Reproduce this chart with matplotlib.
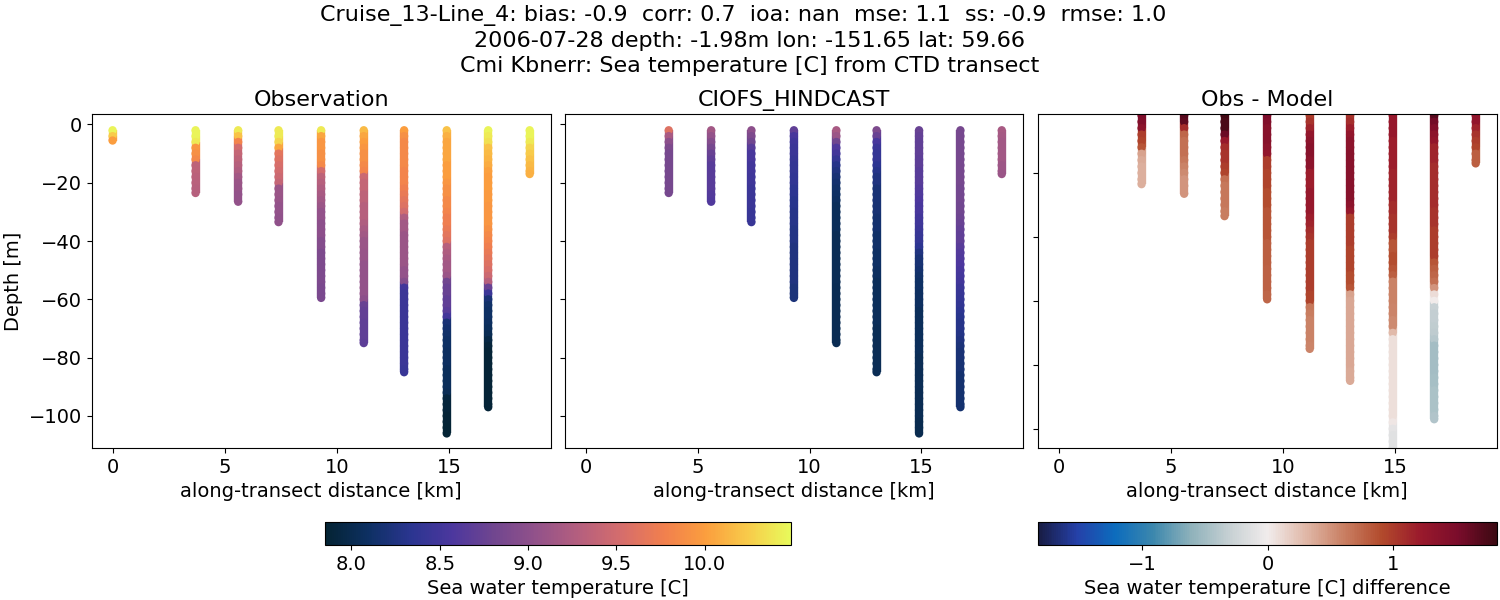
"""
CTD transect comparison: observed vs hindcast sea temperature along one cruise line.
"""
import numpy as np
import matplotlib
matplotlib.use("Agg")
import matplotlib.pyplot as plt
from matplotlib.colors import LinearSegmentedColormap

# cast positions along the transect [km] and deepest sample of each cast [m]
cast_km = [0.0, 3.7, 5.6, 7.4, 9.3, 11.2, 13.0, 14.9, 16.75, 18.6]
cast_bottom = [-5.5, -23.5, -26.5, -33.5, -59.5, -75.0, -85.0, -106.0, -97.0, -17.0]

# sample depths shared by the casts, every cast stops early at its own bottom
depth_levels = [
    -1.98, -4, -6, -8, -10, -12, -14, -16, -18, -20,
    -22, -24, -26, -28, -30, -32, -34, -36, -38, -40,
    -42, -44, -46, -48, -50, -52, -54, -56, -58, -60,
    -62, -64, -66, -68, -70, -72, -74, -76, -78, -80,
    -82, -84, -86, -88, -90, -92, -94, -96, -98, -100,
    -102, -104, -106,
]

# observed temperature [C]
obs_00 = [10.45, 10.25, 10.0]
obs_37 = [10.45, 10.45, 10.4, 9.95, 9.9, 9.85, 9.35, 9.35, 9.33, 9.32,
          9.3, 9.3]
obs_56 = [10.4, 10.2, 9.8, 9.5, 9.4, 9.35, 9.3, 9.25, 9.15, 9.1,
          9.08, 9.05, 9.05]
obs_74 = [10.4, 10.4, 10.3, 10.05, 9.65, 9.6, 9.55, 9.5, 9.45, 9.4,
          9.1, 9.1, 9.08, 9.05, 9.05, 9.03, 9.03]
obs_93 = [10.4, 10.05, 9.95, 9.95, 9.9, 9.9, 9.85, 9.5, 9.35, 9.3,
          9.25, 9.2, 9.15, 9.1, 9.05, 9.05, 9.0, 9.0, 9.0, 8.95,
          8.95, 8.9, 8.9, 8.9, 8.9, 8.9, 8.9, 8.88, 8.88, 8.88]
obs_112 = [10.15, 10.05, 10.0, 9.95, 9.9, 9.9, 9.85, 9.8, 9.45, 9.4,
           9.4, 9.35, 9.35, 9.3, 9.3, 9.3, 9.25, 9.2, 9.15, 9.1,
           9.1, 9.08, 9.08, 9.05, 9.05, 9.05, 9.05, 9.05, 9.05, 9.0,
           8.75, 8.72, 8.72, 8.7, 8.7, 8.7, 8.7, 8.68]
obs_130 = [10.0, 9.9, 9.85, 9.85, 9.85, 9.85, 9.85, 9.8, 9.8, 9.8,
           9.75, 9.7, 9.65, 9.6, 9.5, 9.25, 9.15, 9.15, 9.1, 9.1,
           9.1, 9.1, 9.1, 9.1, 9.05, 9.05, 8.95, 8.5, 8.45, 8.45,
           8.45, 8.45, 8.45, 8.45, 8.45, 8.45, 8.45, 8.45, 8.45, 8.45,
           8.45, 8.43, 8.43]
obs_149 = [10.2, 10.1, 10.05, 10.05, 10.05, 10.05, 10.0, 10.0, 10.0, 9.95,
           9.9, 9.9, 9.85, 9.85, 9.8, 9.75, 9.75, 9.7, 9.65, 9.6,
           9.3, 9.25, 9.2, 9.15, 9.15, 9.1, 8.8, 8.75, 8.75, 8.7,
           8.7, 8.65, 8.5, 8.2, 8.15, 8.12, 8.1, 8.1, 8.08, 8.08,
           8.08, 8.05, 8.05, 8.05, 8.05, 8.03, 7.92, 7.9, 7.9, 7.88,
           7.88, 7.87, 7.87]
obs_168 = [10.45, 10.4, 10.35, 10.2, 10.15, 10.12, 10.08, 10.02, 10.0, 10.0,
           10.0, 9.98, 9.98, 9.95, 9.95, 9.95, 9.95, 9.9, 9.85, 9.8,
           9.75, 9.7, 9.65, 9.6, 9.55, 9.45, 9.3, 8.75, 8.45, 8.2,
           8.12, 8.1, 8.1, 8.08, 8.05, 8.02, 7.95, 7.9, 7.88, 7.88,
           7.88, 7.88, 7.88, 7.88, 7.88, 7.88, 7.88, 7.88, 7.88]
obs_186 = [10.45, 10.45, 10.4, 10.3, 10.25, 10.2, 10.15, 10.12, 10.1]

# hindcast temperature [C], the model has nothing at the first cast
mod_37 = [9.6, 9.2, 9.0, 8.9, 8.85, 8.85, 8.85, 8.85, 8.85, 8.85,
          8.85, 8.85]
mod_56 = [9.15, 9.05, 8.95, 8.85, 8.75, 8.7, 8.65, 8.65, 8.65, 8.65,
          8.65, 8.62, 8.6]
mod_74 = [9.0, 8.9, 8.8, 8.65, 8.55, 8.55, 8.5, 8.5, 8.48, 8.48,
          8.45, 8.45, 8.45, 8.45, 8.43, 8.43, 8.43]
mod_93 = [8.7, 8.55, 8.48, 8.45, 8.45, 8.42, 8.4, 8.4, 8.38, 8.38,
          8.35, 8.35, 8.32, 8.32, 8.3, 8.3, 8.3, 8.28, 8.28, 8.28,
          8.25, 8.25, 8.25, 8.25, 8.25, 8.25, 8.25, 8.22, 8.22, 8.22]
mod_112 = [9.2, 9.1, 8.8, 8.6, 8.5, 8.4, 8.3, 8.25, 8.2, 8.15,
           8.12, 8.1, 8.08, 8.05, 8.05, 8.05, 8.05, 8.05, 8.03, 8.03,
           8.03, 8.03, 8.03, 8.03, 8.03, 8.03, 8.03, 8.02, 8.02, 8.02,
           8.02, 8.02, 8.02, 8.02, 8.02, 8.02, 8.02, 8.02]
mod_130 = [8.9, 8.75, 8.55, 8.45, 8.4, 8.4, 8.35, 8.3, 8.25, 8.25,
           8.2, 8.2, 8.2, 8.18, 8.18, 8.15, 8.15, 8.15, 8.12, 8.12,
           8.12, 8.1, 8.1, 8.1, 8.08, 8.08, 8.05, 8.05, 8.05, 8.05,
           8.05, 8.05, 8.05, 8.05, 8.03, 8.03, 8.03, 8.03, 8.03, 8.03,
           8.03, 8.03, 8.03]
mod_149 = [8.75, 8.72, 8.7, 8.7, 8.7, 8.68, 8.68, 8.65, 8.65, 8.65,
           8.62, 8.6, 8.58, 8.55, 8.55, 8.5, 8.48, 8.45, 8.42, 8.4,
           8.35, 8.25, 8.2, 8.18, 8.15, 8.12, 8.1, 8.1, 8.08, 8.08,
           8.08, 8.05, 8.05, 8.05, 8.05, 8.05, 8.05, 8.05, 8.05, 8.03,
           8.03, 8.03, 8.03, 8.03, 8.03, 8.02, 8.02, 8.02, 8.02, 8.02,
           8.0, 8.0, 8.0]
mod_168 = [8.85, 8.85, 8.85, 8.85, 8.85, 8.85, 8.85, 8.85, 8.85, 8.85,
           8.82, 8.82, 8.82, 8.8, 8.8, 8.78, 8.75, 8.72, 8.7, 8.7,
           8.65, 8.62, 8.6, 8.58, 8.55, 8.52, 8.5, 8.45, 8.42, 8.4,
           8.38, 8.35, 8.32, 8.3, 8.3, 8.28, 8.25, 8.22, 8.2, 8.2,
           8.18, 8.18, 8.15, 8.15, 8.15, 8.15, 8.15, 8.15, 8.15]
mod_186 = [9.2, 9.18, 9.15, 9.15, 9.15, 9.15, 9.12, 9.12, 9.1]

# obs minus model [C]
dif_37 = [1.5, 1.45, 1.35, 1.0, 0.95, 0.85, 0.42, 0.38, 0.35, 0.35,
          0.35, 0.35]
dif_56 = [1.7, 1.65, 1.1, 0.75, 0.7, 0.7, 0.7, 0.65, 0.6, 0.55,
          0.5, 0.5, 0.5]
dif_74 = [1.8, 1.75, 1.75, 1.6, 1.25, 1.1, 1.05, 1.05, 1.0, 0.95,
          0.7, 0.65, 0.65, 0.65, 0.65, 0.62, 0.62]
dif_93 = [1.5, 1.45, 1.4, 1.4, 1.4, 1.35, 1.3, 1.0, 1.0, 0.95,
          0.95, 0.95, 0.9, 0.9, 0.9, 0.85, 0.85, 0.85, 0.85, 0.85,
          0.8, 0.8, 0.8, 0.8, 0.78, 0.78, 0.78, 0.78, 0.75, 0.75]
dif_112 = [1.0, 1.05, 1.15, 1.3, 1.35, 1.4, 1.4, 1.35, 1.35, 1.2,
           1.2, 1.2, 1.25, 1.25, 1.25, 1.25, 1.2, 1.15, 1.1, 1.05,
           1.0, 1.0, 1.0, 1.0, 1.0, 1.0, 1.0, 1.0, 0.95, 0.95,
           0.65, 0.62, 0.6, 0.6, 0.6, 0.6, 0.58, 0.58]
dif_130 = [1.05, 1.1, 1.2, 1.3, 1.35, 1.35, 1.4, 1.4, 1.4, 1.4,
           1.4, 1.4, 1.4, 1.4, 1.35, 1.25, 1.0, 1.0, 1.0, 1.0,
           1.0, 0.95, 0.95, 0.95, 0.95, 0.9, 0.9, 0.85, 0.42, 0.4,
           0.4, 0.4, 0.4, 0.4, 0.4, 0.4, 0.4, 0.4, 0.4, 0.4,
           0.38, 0.38, 0.38]
dif_149 = [1.25, 1.25, 1.25, 1.25, 1.2, 1.2, 1.2, 1.2, 1.2, 1.15,
           1.15, 1.15, 1.15, 1.15, 1.1, 1.1, 1.05, 1.05, 1.05, 1.0,
           0.85, 0.85, 0.9, 0.9, 0.85, 0.8, 0.6, 0.6, 0.6, 0.6,
           0.58, 0.58, 0.55, 0.55, 0.3, 0.08, 0.08, 0.08, 0.08, 0.08,
           0.08, 0.08, 0.08, 0.08, 0.08, 0.08, 0.08, 0.08, 0.03, -0.1,
           -0.12, -0.12, -0.12]
dif_168 = [1.7, 1.55, 1.45, 1.35, 1.3, 1.15, 1.15, 1.15, 1.1, 1.1,
           1.1, 1.1, 1.1, 1.1, 1.1, 1.05, 1.05, 1.05, 1.0, 1.0,
           1.0, 1.0, 1.0, 0.85, 0.8, 0.75, 0.7, 0.5, 0.1, 0.0,
           -0.3, -0.32, -0.32, -0.33, -0.35, -0.4, -0.5, -0.5, -0.5, -0.5,
           -0.5, -0.48, -0.48, -0.45, -0.45, -0.45, -0.45, -0.43, -0.43]
dif_186 = [1.3, 1.3, 1.15, 1.05, 1.0, 0.95, 0.8, 0.8, 0.8]

obs_casts = [obs_00, obs_37, obs_56, obs_74, obs_93, obs_112, obs_130, obs_149, obs_168, obs_186]
mod_casts = [None, mod_37, mod_56, mod_74, mod_93, mod_112, mod_130, mod_149, mod_168, mod_186]
dif_casts = [None, dif_37, dif_56, dif_74, dif_93, dif_112, dif_130, dif_149, dif_168, dif_186]

title_lines = [
    "Cruise_13-Line_4: bias: -0.9  corr: 0.7  ioa: nan  mse: 1.1  ss: -0.9  rmse: 1.0  ",
    "2006-07-28 depth: -1.98m lon: -151.65 lat: 59.66",
    "Cmi Kbnerr: Sea temperature [C] from CTD transect",
]

# hand picked stand-ins for cmocean thermal and balance
thermal = LinearSegmentedColormap.from_list("thermal", [
    "#042333", "#0d3062", "#2a3590", "#4c379e", "#71468f", "#93528a",
    "#b55f7e", "#d56d6c", "#f17f4e", "#fb9e3e", "#f8cb4a", "#e8fa5b"])
balance = LinearSegmentedColormap.from_list("balance", [
    "#181c43", "#2540a8", "#0c6cbd", "#3c87ad", "#8fb2bb", "#c6d0d3",
    "#f1ecec", "#e0b8a8", "#c97f63", "#b24a2c", "#9a1a2c", "#7a0c2b", "#3c0912"])

temp_min, temp_max = 7.85, 10.49
diff_lim = 1.835


def px_axes(fig, x0, y0, x1, y1):
    """Axes from pixel edges of the 1500x600 canvas, y counted from the top."""
    return fig.add_axes([x0 / 1500, 1 - y1 / 600, (x1 - x0) / 1500, (y1 - y0) / 600])


def scatter_casts(ax, casts, cmap, vmin, vmax):
    xs, ys, cs = [], [], []
    for km, bottom, values in zip(cast_km, cast_bottom, casts):
        if values is None:
            continue
        n = len(values)
        depths = depth_levels[:n - 1] + [bottom]
        # the real casts are sampled much finer, fill between our samples
        ax.vlines([km] * (n - 1), depths[:-1], depths[1:], colors=cmap((np.array(values[1:]) - vmin) / (vmax - vmin)),
                  linewidth=6.0, zorder=1)
        xs += [km] * n
        ys += depths
        cs += values
    return ax.scatter(xs, ys, c=cs, cmap=cmap, vmin=vmin, vmax=vmax, s=36, linewidths=0, zorder=2)


def run_plot():
    plt.rcParams["font.size"] = 14

    fig = plt.figure(figsize=(15, 6), dpi=100)
    fig.suptitle("\n".join(title_lines), x=0.5, y=0.992, fontsize=16, linespacing=1.31)

    ax_obs = px_axes(fig, 91.5, 114, 551, 448)
    ax_mod = px_axes(fig, 565, 114, 1023, 448)
    ax_dif = px_axes(fig, 1037.5, 114, 1497, 448)

    sc_obs = scatter_casts(ax_obs, obs_casts, thermal, temp_min, temp_max)
    scatter_casts(ax_mod, mod_casts, thermal, temp_min, temp_max)
    sc_dif = scatter_casts(ax_dif, dif_casts, balance, -diff_lim, diff_lim)

    for ax, name in zip([ax_obs, ax_mod, ax_dif], ["Observation", "CIOFS_HINDCAST", "Obs - Model"]):
        ax.set_title(name, fontsize=16, pad=5.5)
        ax.set_xlim(-0.94, 19.55)
        ax.set_xlabel("along-transect distance [km]", fontsize=14)
        ax.set_xticks([0, 5, 10, 15])
        ax.set_yticks([0, -20, -40, -60, -80, -100])

    ax_obs.set_ylim(-111.0, 3.6)
    ax_mod.set_ylim(-111.0, 3.6)
    # the difference panel was not shared with the other two
    ax_dif.set_ylim(-106.0, -1.56)
    ax_obs.set_ylabel("Depth [m]", fontsize=14)
    ax_mod.tick_params(labelleft=False)
    ax_dif.tick_params(labelleft=False)

    cax_t = px_axes(fig, 325, 522, 791, 545)
    cb_t = fig.colorbar(sc_obs, cax=cax_t, orientation="horizontal")
    cb_t.set_ticks(np.arange(8.0, 10.5, 0.5))
    cb_t.set_label("Sea water temperature [C]", fontsize=14)

    cax_d = px_axes(fig, 1038, 522, 1497, 545)
    cb_d = fig.colorbar(sc_dif, cax=cax_d, orientation="horizontal")
    cb_d.set_ticks([-1, 0, 1])
    cb_d.set_label("Sea water temperature [C] difference", fontsize=14)

    fig.savefig("out.png", dpi=100)
    plt.close(fig)


if __name__ == "__main__":
    run_plot()
